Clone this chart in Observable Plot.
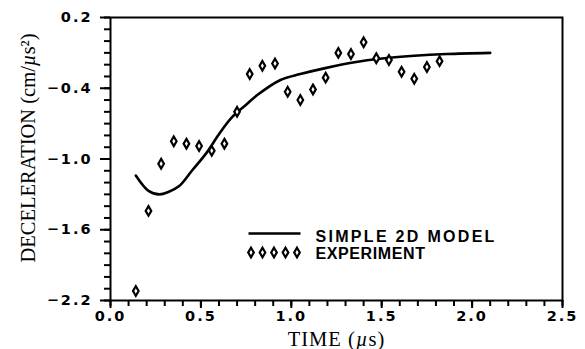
<!DOCTYPE html>
<html>
<head>
<meta charset="utf-8">
<script src="https://cdn.jsdelivr.net/npm/d3@7"></script>
<script src="https://cdn.jsdelivr.net/npm/@observablehq/plot@0.6"></script>
<style>
  html, body { margin: 0; padding: 0; background: #fff; }
  #chart svg { display: block; background: #fff; }
</style>
</head>
<body>
<div id="chart"></div>
<script>
// Measured deceleration (experiment)
const expTime  = [0.14, 0.21, 0.28, 0.35, 0.42, 0.49, 0.56, 0.63, 0.70, 0.77, 0.84, 0.91, 0.98,
                  1.05, 1.12, 1.19, 1.26, 1.33, 1.40, 1.47, 1.54, 1.61, 1.68, 1.75, 1.82];
const expDecel = [-2.12, -1.44, -1.04, -0.85, -0.87, -0.89, -0.93, -0.87, -0.60, -0.28, -0.21, -0.19, -0.43,
                  -0.50, -0.41, -0.31, -0.10, -0.11, -0.01, -0.145, -0.16, -0.26, -0.32, -0.22, -0.17];

// Simple 2D model prediction
const modelTime  = [0.14, 0.21, 0.27, 0.32, 0.38, 0.45, 0.53, 0.60, 0.67, 0.75, 0.81, 0.94,
                    1.05, 1.20, 1.35, 1.49, 1.68, 1.86, 2.10];
const modelDecel = [-1.14, -1.27, -1.30, -1.28, -1.23, -1.10, -0.95, -0.79, -0.65, -0.54, -0.46, -0.33,
                    -0.28, -0.225, -0.18, -0.15, -0.125, -0.11, -0.10];

// Axis ticks
const xTicks = [0.0, 0.5, 1.0, 1.5, 2.0, 2.5];
const yTicks = [-2.2, -1.6, -1.0, -0.4, 0.2];
const xMinor = d3.range(0, 26).map(i => i / 10);
const yMinor = d3.range(-22, 3).map(i => i / 10);

const legendLabels = ["SIMPLE 2D MODEL", "EXPERIMENT"];
const xLabel = "TIME (µs)";
const yLabel = "DECELERATION (cm/µs²)";

const expRows = expTime.map((t, i) => ({t, a: expDecel[i]}));
const modelRows = modelTime.map((t, i) => ({t, a: modelDecel[i]}));

// Open diamond, taller than wide
const tallDiamond = {
  draw(ctx, size) {
    const r = Math.sqrt(size / Math.PI);
    ctx.moveTo(0, -1.2 * r);
    ctx.lineTo(0.7 * r, 0);
    ctx.lineTo(0, 1.2 * r);
    ctx.lineTo(-0.7 * r, 0);
    ctx.closePath();
  }
};
// Short horizontal stroke for the legend
const dash = {
  draw(ctx, size) {
    const r = Math.sqrt(size / Math.PI);
    ctx.moveTo(-r, 0);
    ctx.lineTo(r, 0);
  }
};

const tickFont = {fontFamily: "DejaVu Sans", fontWeight: "bold", fontSize: 14.5};
const legendFont = {fontFamily: "Liberation Sans", fontWeight: "bold", fontSize: 16};
const fmt = d3.format(".1f");

const chart = Plot.plot({
  width: 585,
  height: 349,
  marginLeft: 110,
  marginRight: 23,
  marginTop: 17,
  marginBottom: 49,
  x: {domain: [0, 2.5]},
  y: {domain: [-2.2, 0.2]},
  marks: [
    Plot.axisY(yMinor, {tickSize: 6, tickFormat: () => "", strokeWidth: 2, label: null}),
    Plot.axisY(yTicks, {tickSize: 10, tickPadding: 8, tickFormat: fmt, strokeWidth: 2, label: null, ...tickFont}),
    Plot.axisX(xMinor, {tickSize: 6, tickFormat: () => "", strokeWidth: 2, label: null}),
    Plot.axisX(xTicks, {tickSize: 8, tickPadding: 2, tickFormat: fmt, strokeWidth: 2, label: null, ...tickFont}),
    Plot.frame({stroke: "black", strokeWidth: 2}),
    Plot.line(modelRows, {x: "t", y: "a", curve: "catmull-rom", stroke: "black", strokeWidth: 2.6}),
    Plot.dot(expRows, {x: "t", y: "a", symbol: tallDiamond, r: 4, stroke: "black", strokeWidth: 2.2, fill: "white"}),
    // legend
    Plot.dot([0], {frameAnchor: "top-left", dx: 164, dy: 216, symbol: dash, r: 26, stroke: "black", strokeWidth: 2.6, fill: "none"}),
    ...d3.range(5).map(i =>
      Plot.dot([0], {frameAnchor: "top-left", dx: 140.5 + i * 11.5, dy: 235, symbol: tallDiamond, r: 4,
                     stroke: "black", strokeWidth: 2.2, fill: "white"})),
    Plot.text([legendLabels[0]], {text: d => d, frameAnchor: "top-left", dx: 205, dy: 219, textAnchor: "start",
                                  lineAnchor: "middle", ...legendFont}),
    Plot.text([legendLabels[1]], {text: d => d, frameAnchor: "top-left", dx: 205, dy: 236, textAnchor: "start",
                                  lineAnchor: "middle", ...legendFont}),
    // axis titles
    Plot.text([xLabel], {text: d => d, frameAnchor: "bottom", dy: 38.5, lineAnchor: "middle", textAnchor: "middle",
                         fontFamily: "Liberation Serif", fontSize: 20.5}),
    Plot.text([yLabel], {text: d => d, frameAnchor: "left", rotate: -90, dx: -82, dy: -11, lineAnchor: "middle",
                         textAnchor: "middle", fontFamily: "Liberation Serif", fontSize: 20.5})
  ]
});

const svg = d3.select(chart);
svg.selectAll('g[aria-label="y-axis tick label"] text, g[aria-label="x-axis tick label"] text')
  .style("letter-spacing", "2px");
svg.selectAll("text").filter(function () { return this.textContent === legendLabels[0]; })
  .style("letter-spacing", "2.3px");
svg.selectAll("text").filter(function () { return this.textContent === legendLabels[1]; })
  .style("letter-spacing", "0.6px");
svg.selectAll("text").filter(function () { return this.textContent === xLabel; })
  .style("letter-spacing", "1px");

// italic µ in the axis titles
function italicMu(str) {
  svg.selectAll("text").filter(function () { return this.textContent === str; }).each(function () {
    const el = d3.select(this);
    const parts = str.split("µ");
    el.text(null);
    el.append("tspan").text(parts[0]);
    el.append("tspan").attr("font-style", "italic").text("µ");
    el.append("tspan").text(parts[1]);
  });
}
italicMu(xLabel);
italicMu(yLabel);

document.getElementById("chart").appendChild(chart);
</script>
</body>
</html>
